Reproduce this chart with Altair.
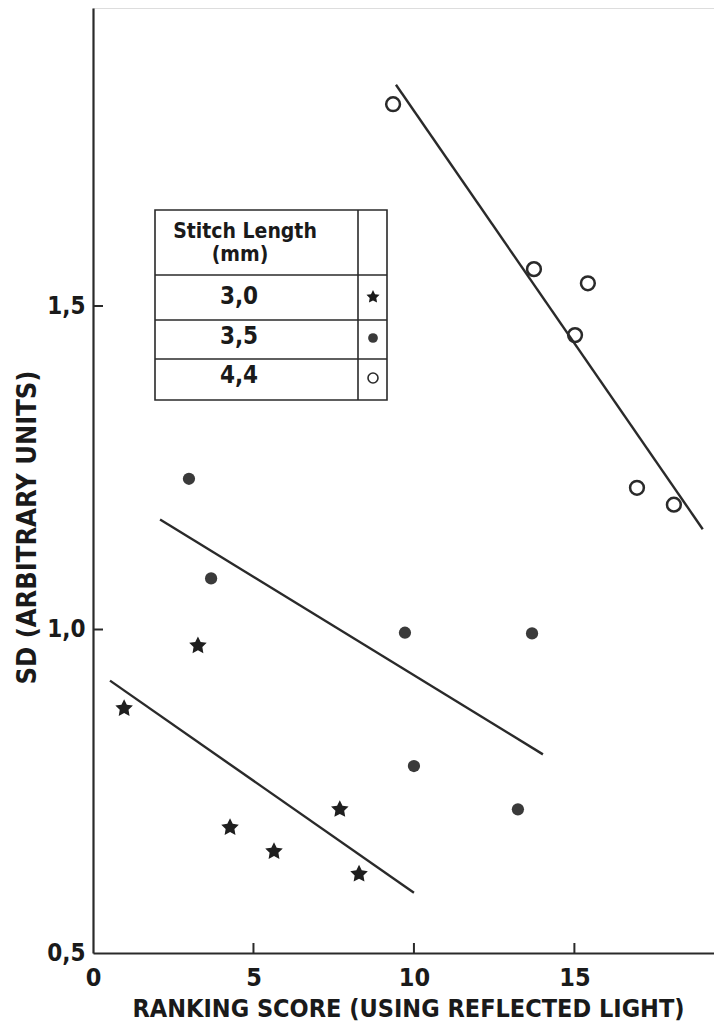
import altair as alt
import pandas as pd

# ---------------- data ----------------
star_x = [0.97, 3.27, 4.27, 5.64, 7.69, 8.29]
star_y = [0.878, 0.975, 0.694, 0.657, 0.722, 0.622]

dot_x = [2.99, 3.68, 9.72, 10.00, 13.24, 13.68]
dot_y = [1.233, 1.079, 0.995, 0.789, 0.722, 0.994]

ring_x = [9.35, 13.74, 15.02, 15.42, 16.95, 18.10]
ring_y = [1.812, 1.557, 1.455, 1.535, 1.219, 1.193]

fit_group = ["3,0", "3,0", "3,5", "3,5", "4,4", "4,4"]
fit_x = [0.53, 10.0, 2.09, 14.02, 9.44, 19.0]
fit_y = [0.921, 0.593, 1.170, 0.807, 1.842, 1.155]

x_tick_values = [0, 5, 10, 15]
y_tick_values = [0.5, 1.0, 1.5]
x_inner_ticks = [5, 10, 15]
y_inner_ticks = [1.0, 1.5]

legend_title = ["Stitch Length", "(mm)"]
legend_labels = ["3,0", "3,5", "4,4"]

x_title = "RANKING SCORE (USING REFLECTED LIGHT)"
y_title = "SD (ARBITRARY UNITS)"

# ---------------- styling / layout ----------------
W, H = 621, 945
FONT = "Liberation Sans Narrow, DejaVu Sans Condensed, Arial Narrow, sans-serif"
INK = "#2a2a2a"
STAR = ("M0,-1L0.294,-0.405L0.951,-0.309L0.476,0.155L0.588,0.809L0,0.5"
        "L-0.588,0.809L-0.476,0.155L-0.951,-0.309L-0.294,-0.405Z")

xs = alt.Scale(domain=[0, 19.35], nice=False, zero=False)
ys = alt.Scale(domain=[0.5, 1.9606], nice=False, zero=False)

x_axis = alt.Axis(
    orient="bottom",
    values=x_tick_values, grid=False, ticks=False, tickSize=0,
    domainColor=INK, domainWidth=2.2,
    labelFont=FONT, labelFontSize=25, labelFontWeight="bold", labelColor="#1a1a1a",
    labelPadding=12, labelFlush=False,
    title=x_title, titleFont=FONT, titleFontSize=25, titleFontWeight="bold",
    titleColor="#1a1a1a", titleX=315, titleY=55, titleBaseline="middle",
    titleAnchor="middle",
)
y_axis = alt.Axis(
    orient="left",
    values=y_tick_values, grid=False, ticks=False, tickSize=0,
    domainColor=INK, domainWidth=2.2,
    labelExpr="replace(format(datum.value, '.1f'), '.', ',')",
    labelFont=FONT, labelFontSize=24, labelFontWeight="bold", labelColor="#1a1a1a",
    labelPadding=8, labelFlush=False,
    title=y_title, titleFont=FONT, titleFontSize=27, titleFontWeight="bold",
    titleColor="#1a1a1a", titleAngle=270, titleX=-66, titleY=519,
    titleBaseline="middle", titleAlign="center",
)


def X(field="x"):
    return alt.X(f"{field}:Q", scale=xs, axis=x_axis)


def Y(field="y"):
    return alt.Y(f"{field}:Q", scale=ys, axis=y_axis)


stars = pd.DataFrame({"x": star_x, "y": star_y})
dots = pd.DataFrame({"x": dot_x, "y": dot_y})
rings = pd.DataFrame({"x": ring_x, "y": ring_y})
fits = pd.DataFrame({"x": fit_x, "y": fit_y, "g": fit_group})

fit_layer = alt.Chart(fits).mark_line(color=INK, strokeWidth=2.4).encode(
    x=X(), y=Y(), detail="g:N"
)
star_layer = alt.Chart(stars).mark_point(
    shape=STAR, filled=True, color="#1f1f1f", size=340, opacity=1
).encode(x=X(), y=Y())
dot_layer = alt.Chart(dots).mark_circle(color="#3a3a3a", size=150, opacity=1).encode(
    x=X(), y=Y()
)
ring_layer = alt.Chart(rings).mark_point(
    shape="circle", filled=False, color="#2a2a2a", size=190, strokeWidth=2.5, opacity=1
).encode(x=X(), y=Y())

xt = pd.DataFrame({"v": x_inner_ticks})
yt = pd.DataFrame({"v": y_inner_ticks})
x_tick_layer = alt.Chart(xt).mark_rule(color=INK, strokeWidth=2).encode(
    x=X("v"), y=alt.value(H), y2=alt.value(H - 10)
)
y_tick_layer = alt.Chart(yt).mark_rule(color=INK, strokeWidth=2).encode(
    y=Y("v"), x=alt.value(0), x2=alt.value(10)
)

# ---------------- table-style legend ----------------
one = pd.DataFrame({"k": [0]})
TL, TR, TI = 62, 294, 265
TT, TB = 202, 392
ROWS = [267, 312, 351]
legend_layers = [
    alt.Chart(one).mark_rect(fillOpacity=0, stroke=INK, strokeWidth=1.6).encode(
        x=alt.value(TL), x2=alt.value(TR), y=alt.value(TT), y2=alt.value(TB)
    ),
    alt.Chart(one).mark_rule(color=INK, strokeWidth=1.6).encode(
        x=alt.value(TI), y=alt.value(TT), y2=alt.value(TB)
    ),
]
for r in ROWS:
    legend_layers.append(
        alt.Chart(one).mark_rule(color=INK, strokeWidth=1.6).encode(
            x=alt.value(TL), x2=alt.value(TR), y=alt.value(r)
        )
    )

title_pos = [(152, 224), (147, 247)]
for txt, (tx, ty) in zip(legend_title, title_pos):
    legend_layers.append(
        alt.Chart(one).mark_text(
            font=FONT, fontSize=21, fontWeight="bold", color="#1a1a1a",
            align="center", baseline="middle",
        ).encode(x=alt.value(tx), y=alt.value(ty), text=alt.value(txt))
    )

label_y = [289, 329, 368]
for txt, ty in zip(legend_labels, label_y):
    legend_layers.append(
        alt.Chart(one).mark_text(
            font=FONT, fontSize=24, fontWeight="bold", color="#1a1a1a",
            align="center", baseline="middle",
        ).encode(x=alt.value(146), y=alt.value(ty), text=alt.value(txt))
    )

legend_layers.append(
    alt.Chart(one).mark_point(shape=STAR, filled=True, color="#1a1a1a", size=190, opacity=1)
    .encode(x=alt.value(280), y=alt.value(289))
)
legend_layers.append(
    alt.Chart(one).mark_circle(color="#3a3a3a", size=95, opacity=1)
    .encode(x=alt.value(280), y=alt.value(330))
)
legend_layers.append(
    alt.Chart(one).mark_point(shape="circle", filled=False, color="#2a2a2a", size=100,
                              strokeWidth=1.6, opacity=1)
    .encode(x=alt.value(280), y=alt.value(370))
)

chart = alt.layer(
    fit_layer, x_tick_layer, y_tick_layer, dot_layer, ring_layer, star_layer,
    *legend_layers
).properties(
    width=W, height=H,
    autosize=alt.AutoSizeParams(type="none"),
    padding={"left": 85, "top": 0, "right": 0, "bottom": 72},
).configure_view(stroke=None).configure(background="white")

chart.save("out.html", embed_options={"renderer": "svg", "actions": False})
